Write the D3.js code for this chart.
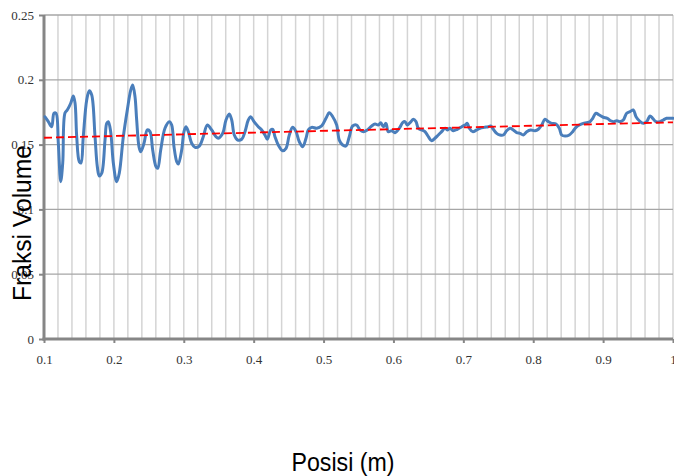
<!DOCTYPE html>
<html>
<head>
<meta charset="utf-8">
<script src="https://cdn.jsdelivr.net/npm/d3@7"></script>
<style>
  html, body { margin: 0; padding: 0; background: #fff; }
  svg { display: block; }
</style>
</head>
<body>
<div id="chart"></div>
<script>
// Volume fraction profile along the position (m)
const posisi = [
  0.1014, 0.1062, 0.1110, 0.1143, 0.1172, 0.1205, 0.1239, 0.1268, 0.1300, 0.1333,
  0.1382, 0.1419, 0.1444, 0.1468, 0.1505, 0.1529, 0.1562, 0.1611, 0.1648, 0.1683,
  0.1730, 0.1763, 0.1791, 0.1826, 0.1873, 0.1897, 0.1920, 0.1954, 0.1992, 0.2040,
  0.2077, 0.2135, 0.2192, 0.2241, 0.2269, 0.2302, 0.2326, 0.2359, 0.2384, 0.2431,
  0.2478, 0.2517, 0.2555, 0.2603, 0.2627, 0.2670, 0.2731, 0.2793, 0.2827, 0.2860,
  0.2899, 0.2922, 0.2970, 0.3003, 0.3031, 0.3065, 0.3113, 0.3161, 0.3222,
  0.3279, 0.3337, 0.3399, 0.3461, 0.3494, 0.3557, 0.3604, 0.3651, 0.3686, 0.3723,
  0.3772, 0.3829, 0.3876, 0.3923, 0.3958, 0.4005, 0.4066, 0.4115, 0.4162, 0.4195,
  0.4244, 0.4272, 0.4305, 0.4352, 0.4415, 0.4463, 0.4510, 0.4558, 0.4606, 0.4653,
  0.4702, 0.4749, 0.4782, 0.4830, 0.4902, 0.4973, 0.5035, 0.5082, 0.5131, 0.5188,
  0.5225, 0.5274, 0.5321, 0.5368, 0.5417, 0.5474,
  0.5521, 0.5569, 0.5626, 0.5689, 0.5736, 0.5783, 0.5818, 0.5855, 0.5893, 0.5926,
  0.5975, 0.6022, 0.6084, 0.6132, 0.6165, 0.6198, 0.6237, 0.6284, 0.6323, 0.6356,
  0.6404, 0.6451, 0.6499, 0.6547, 0.6594, 0.6642, 0.6690, 0.6738, 0.6771, 0.6809,
  0.6856, 0.6913, 0.6977, 0.7024, 0.7057, 0.7085, 0.7134, 0.7191, 0.7238, 0.7296,
  0.7357, 0.7391, 0.7429, 0.7477, 0.7525, 0.7572, 0.7620, 0.7668, 0.7715, 0.7763,
  0.7811, 0.7858, 0.7907, 0.7964, 0.8025, 0.8073, 0.8121, 0.8168, 0.8216, 0.8264,
  0.8326, 0.8373, 0.8407, 0.8455, 0.8516, 0.8565, 0.8612, 0.8659, 0.8716, 0.8765,
  0.8812, 0.8851, 0.8898, 0.8945, 0.9002, 0.9060, 0.9108, 0.9155, 0.9194, 0.9241,
  0.9289, 0.9337, 0.9385, 0.9432, 0.9471, 0.9518, 0.9575, 0.9624, 0.9671, 0.9709,
  0.9757, 0.9814, 0.9861, 0.9909, 0.9981, 1.0000
];
const fraksiVolume = [
  0.1715, 0.1677, 0.1638, 0.1742, 0.1742, 0.1510, 0.1214, 0.1358, 0.1744, 0.1767,
  0.1819, 0.1875, 0.1821, 0.1561, 0.1368, 0.1358, 0.1561, 0.1844, 0.1916, 0.1883,
  0.1561, 0.1329, 0.1258, 0.1279, 0.1535, 0.1664, 0.1677, 0.1600, 0.1358, 0.1214,
  0.1279, 0.1561, 0.1767, 0.1921, 0.1960, 0.1870, 0.1690, 0.1484, 0.1445, 0.1510,
  0.1613, 0.1600, 0.1458, 0.1329, 0.1317, 0.1458, 0.1626, 0.1677, 0.1651, 0.1484,
  0.1368, 0.1350, 0.1458, 0.1600, 0.1638, 0.1600, 0.1510, 0.1479, 0.1489,
  0.1561, 0.1651, 0.1613, 0.1561, 0.1549, 0.1587, 0.1690, 0.1736, 0.1690, 0.1574,
  0.1535, 0.1541, 0.1600, 0.1690, 0.1715, 0.1677, 0.1638, 0.1613, 0.1574, 0.1541,
  0.1613, 0.1618, 0.1561, 0.1497, 0.1453, 0.1471, 0.1574, 0.1633, 0.1600, 0.1522,
  0.1484, 0.1549, 0.1613, 0.1633, 0.1626, 0.1644, 0.1703, 0.1746, 0.1715, 0.1651,
  0.1535, 0.1497, 0.1489, 0.1561, 0.1644, 0.1651,
  0.1613, 0.1600, 0.1613, 0.1644, 0.1659, 0.1651, 0.1669, 0.1638, 0.1664, 0.1600,
  0.1607, 0.1592, 0.1626, 0.1669, 0.1677, 0.1651, 0.1669, 0.1695, 0.1677, 0.1626,
  0.1613, 0.1600, 0.1561, 0.1530, 0.1549, 0.1574, 0.1600, 0.1626, 0.1613, 0.1626,
  0.1607, 0.1618, 0.1638, 0.1651, 0.1664, 0.1626, 0.1600, 0.1613, 0.1626, 0.1633,
  0.1638, 0.1644, 0.1618, 0.1587, 0.1574, 0.1574, 0.1607, 0.1626, 0.1613, 0.1592,
  0.1587, 0.1574, 0.1600, 0.1613, 0.1607, 0.1618, 0.1651, 0.1695, 0.1677, 0.1664,
  0.1659, 0.1626, 0.1574, 0.1566, 0.1574, 0.1600, 0.1633, 0.1651, 0.1664, 0.1669,
  0.1677, 0.1703, 0.1742, 0.1728, 0.1711, 0.1703, 0.1684, 0.1677, 0.1684, 0.1677,
  0.1690, 0.1742, 0.1754, 0.1767, 0.1715, 0.1684, 0.1664, 0.1677, 0.1721, 0.1703,
  0.1677, 0.1677, 0.1690, 0.1703, 0.1703, 0.1703
];
// Linear trend line end points
const trendX = [0.1, 1.0];
const trendY = [0.1553, 0.1672];

const xTicks = [0.1, 0.2, 0.3, 0.4, 0.5, 0.6, 0.7, 0.8, 0.9, 1];
const xTickLabels = ["0.1", "0.2", "0.3", "0.4", "0.5", "0.6", "0.7", "0.8", "0.9", "1"];
const yTicks = [0, 0.05, 0.1, 0.15, 0.2, 0.25];
const yTickLabels = ["0", "0.05", "0.1", "0.15", "0.2", "0.25"];
const xMinorGrid = d3.range(6, 51).map(i => i * 0.02);

const W = 674, H = 476;
const margin = { left: 44, right: 1, top: 15, bottom: 137 };

const svg = d3.select("#chart").append("svg")
  .attr("width", W).attr("height", H);

const x = d3.scaleLinear().domain([0.1, 1]).range([margin.left, W - margin.right]);
const y = d3.scaleLinear().domain([0, 0.25]).range([H - margin.bottom, margin.top]);

const serif = "'Liberation Serif', 'Times New Roman', serif";
const sans = "'Liberation Sans', Arial, sans-serif";

// Vertical minor grid
svg.append("g")
  .selectAll("line").data(xMinorGrid.filter(v => v > 0.101)).join("line")
  .attr("x1", d => x(d)).attr("x2", d => x(d))
  .attr("y1", y(0.25)).attr("y2", y(0))
  .attr("stroke", "#d4d4d4").attr("stroke-width", 1.5);

// Horizontal major grid
svg.append("g")
  .selectAll("line").data(yTicks.filter(v => v > 0)).join("line")
  .attr("x1", x(0.1)).attr("x2", x(1))
  .attr("y1", d => y(d)).attr("y2", d => y(d))
  .attr("stroke", "#a6a6a6").attr("stroke-width", 1.3);

// Y axis
const yAxis = d3.axisLeft(y).tickValues(yTicks)
  .tickFormat((d, i) => yTickLabels[i]).tickSize(5).tickPadding(5);
const gy = svg.append("g").attr("transform", `translate(${x(0.1)},0)`).call(yAxis);
gy.select(".domain").attr("stroke", "#868686").attr("stroke-width", 3)
  .attr("d", `M0,${y(0.25)}V${y(0) + 1.5}`);
gy.selectAll(".tick line").attr("stroke", "#868686").attr("stroke-width", 2);
gy.selectAll(".tick text").attr("font-family", serif).attr("font-size", 13)
  .attr("fill", "#333");

// X axis
const xAxis = d3.axisBottom(x).tickValues(xTicks)
  .tickFormat((d, i) => xTickLabels[i]).tickSize(4).tickPadding(12);
const gx = svg.append("g").attr("transform", `translate(0,${y(0)})`).call(xAxis);
gx.select(".domain").attr("stroke", "#868686").attr("stroke-width", 3)
  .attr("d", `M${x(0.1) - 1.5},0H${x(1)}`);
gx.selectAll(".tick line").attr("stroke", "#868686").attr("stroke-width", 2);
gx.selectAll(".tick text").attr("font-family", serif).attr("font-size", 13)
  .attr("fill", "#333");

// Data line
const pts = posisi.map((p, i) => [p, fraksiVolume[i]]);
const line = d3.line().x(d => x(d[0])).y(d => y(d[1]))
  .curve(d3.curveCatmullRom.alpha(0.5));
svg.append("path").datum(pts)
  .attr("d", line)
  .attr("fill", "none")
  .attr("stroke", "#4a7ebb")
  .attr("stroke-width", 3)
  .attr("stroke-linejoin", "round")
  .attr("stroke-linecap", "round");

// Trend line
const trend = trendX.map((t, i) => [t, trendY[i]]);
svg.append("path").datum(trend)
  .attr("d", d3.line().x(d => x(d[0])).y(d => y(d[1])))
  .attr("fill", "none")
  .attr("stroke", "#ff0000")
  .attr("stroke-width", 1.8)
  .attr("stroke-dasharray", "8,4");

// Axis titles
svg.append("text")
  .attr("transform", `translate(31,223) rotate(-90)`)
  .attr("text-anchor", "middle")
  .attr("font-family", sans)
  .attr("font-size", 25)
  .attr("fill", "#000")
  .attr("textLength", 156)
  .attr("lengthAdjust", "spacingAndGlyphs")
  .text("Fraksi Volume");

svg.append("text")
  .attr("x", 343).attr("y", 471)
  .attr("text-anchor", "middle")
  .attr("font-family", sans)
  .attr("font-size", 25)
  .attr("fill", "#000")
  .attr("textLength", 103)
  .attr("lengthAdjust", "spacingAndGlyphs")
  .text("Posisi (m)");
</script>
</body>
</html>
